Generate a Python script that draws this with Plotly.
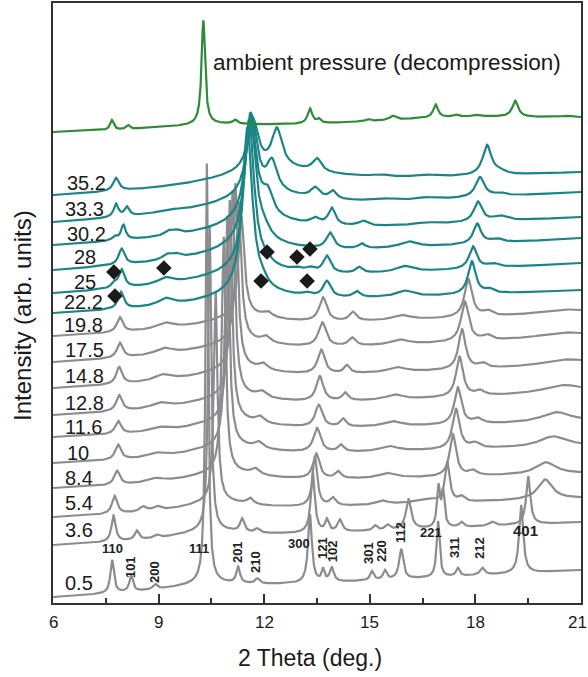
import numpy as np
import plotly.graph_objects as go

# ---------------- data ----------------
# pressures (GPa) for the stacked patterns, bottom -> top
PRESSURES = ["0.5", "3.6", "5.4", "8.4", "10", "11.6", "12.8", "14.8", "17.5", "19.8",
             "22.2", "25", "28", "30.2", "33.3", "35.2"]
# level of each trace at 2theta = 6 and 2theta = 21 (arb. units, offset included)
LEFT_LEVEL = [6, 58, 86, 115, 140, 166, 188, 215, 241, 267, 290, 310, 333, 358, 381, 408]
RIGHT_LEVEL = [33, 81, 106, 131, 160, 185, 216, 243, 270, 293, 313, 340, 365, 386, 411, 431]

# peaks of each pattern: (2theta, height, half width)
PK_0_5 = [(10.4, 6, 1.5), (7.68, 33, 0.06), (8.22, 16, 0.06), (8.9, 5, 0.07), (10.37, 420, 0.045),
          (11.26, 16, 0.06), (11.8, 5, 0.07), (13.3, 68, 0.065), (13.67, 12, 0.05), (13.92, 14, 0.07),
          (15.06, 9, 0.06), (15.43, 9, 0.06), (15.89, 30, 0.07), (16.94, 56, 0.05), (17.5, 8, 0.06),
          (18.2, 7, 0.08), (19.3, 68, 0.07)]
PK_3_6 = [(10.45, 8, 1.2), (7.72, 26, 0.07), (8.38, 9, 0.07), (8.95, 3, 0.08), (10.45, 305, 0.05),
          (11.37, 13, 0.07), (11.8, 4, 0.08), (13.38, 60, 0.07), (13.78, 12, 0.06), (14.15, 12, 0.08),
          (15.15, 5, 0.07), (15.5, 5, 0.08), (16.1, 30, 0.09), (16.95, 40, 0.05), (17.08, 35, 0.05),
          (17.6, 5, 0.07), (18.47, 4, 0.1), (19.5, 48, 0.07)]
PK_5_4 = [(10.65, 10, 1.2), (7.75, 18, 0.09), (8.56, 5, 0.12), (8.95, 4, 0.12), (10.62, 210, 0.06),
          (11.6, 6, 0.1), (13.44, 50, 0.08), (13.95, 8, 0.1), (15.35, 4, 0.2), (16.55, 4, 0.4),
          (17.2, 40, 0.08), (17.6, 5, 0.1), (19.98, 20, 0.25)]
PK_8_4 = [(10.85, 12, 1.3), (7.82, 14, 0.1), (8.9, 4, 0.3), (10.85, 235, 0.065), (11.75, 6, 0.13),
          (13.48, 25, 0.11), (14.1, 7, 0.1), (15.5, 5, 0.3), (17.36, 42, 0.11), (17.93, 5, 0.15),
          (20.0, 12, 0.35)]
PK_10 = [(10.95, 12, 1.3), (7.85, 15, 0.1), (8.95, 4, 0.3), (10.95, 230, 0.07), (11.85, 6, 0.14),
         (13.5, 24, 0.12), (14.18, 7, 0.1), (15.55, 5, 0.3), (17.45, 40, 0.12), (17.99, 5, 0.15),
         (20.2, 10, 0.45)]
PK_11_6 = [(11.0, 12, 1.3), (7.85, 13, 0.1), (9.0, 4, 0.3), (11.02, 220, 0.075), (11.88, 6, 0.14),
           (13.55, 22, 0.12), (14.24, 8, 0.1), (15.65, 5, 0.3), (17.5, 37, 0.12), (18.07, 5, 0.15),
           (20.3, 10, 0.5)]
PK_12_8 = [(11.1, 12, 1.3), (7.88, 16, 0.1), (9.05, 5, 0.3), (11.1, 205, 0.08), (11.92, 6, 0.15),
           (13.58, 25, 0.12), (14.3, 8, 0.1), (15.7, 5, 0.3), (17.55, 40, 0.12), (18.13, 5, 0.15),
           (20.5, 8, 0.7)]
PK_14_8 = [(11.2, 12, 1.3), (7.88, 17, 0.1), (9.12, 6, 0.3), (11.18, 185, 0.08), (11.97, 6, 0.15),
           (13.62, 24, 0.12), (14.35, 8, 0.1), (15.77, 5, 0.3), (17.62, 40, 0.12), (18.2, 5, 0.15),
           (20.6, 6, 0.8)]
PK_17_5 = [(11.3, 12, 1.3), (7.9, 15, 0.1), (9.15, 6, 0.3), (11.27, 140, 0.09), (12.05, 6, 0.15),
           (13.65, 24, 0.13), (14.5, 8, 0.12), (15.85, 5, 0.3), (17.7, 40, 0.13), (18.33, 5, 0.15),
           (20.5, 5, 0.8)]
PK_19_8 = [(11.4, 12, 1.3), (7.9, 15, 0.1), (9.18, 6, 0.3), (11.35, 100, 0.1), (12.1, 5, 0.15),
           (13.67, 24, 0.13), (14.52, 9, 0.12), (15.9, 5, 0.3), (17.8, 38, 0.13), (18.35, 5, 0.15),
           (20.5, 4, 0.8)]
PK_22_2 = [(11.6, 12, 1.5), (7.93, 17, 0.1), (9.2, 7, 0.25), (11.52, 165, 0.17), (11.95, 5, 0.15),
           (13.2, 3, 0.15), (13.78, 16, 0.13), (14.63, 6, 0.12), (16.0, 6, 0.3), (17.9, 33, 0.13),
           (18.4, 4, 0.15)]
PK_25 = [(11.6, 13, 1.5), (7.73, 5, 0.08), (7.95, 18, 0.1), (9.2, 6, 0.25), (11.57, 150, 0.17),
         (12.08, 4, 0.15), (12.93, 3, 0.15), (13.3, 4, 0.15), (13.78, 17, 0.13), (14.7, 6, 0.12),
         (16.0, 6, 0.3), (17.93, 22, 0.13), (18.5, 4, 0.2)]
PK_28 = [(11.7, 14, 1.5), (7.95, 16, 0.1), (9.23, 5, 0.15), (9.5, 4, 0.15), (11.6, 130, 0.18),
         (12.0, 8, 0.2), (13.87, 16, 0.13), (14.77, 5, 0.12), (16.1, 6, 0.3), (18.05, 20, 0.13),
         (18.6, 4, 0.2)]
PK_30_2 = [(11.8, 15, 1.5), (7.75, 4, 0.08), (8.0, 15, 0.08), (9.27, 4, 0.12), (9.5, 4, 0.15),
           (11.62, 105, 0.18), (12.1, 22, 0.18), (13.45, 6, 0.15), (13.92, 17, 0.12), (14.8, 5, 0.15),
           (16.6, 2, 0.3), (18.07, 20, 0.14), (18.7, 5, 0.25)]
PK_33_3 = [(12.0, 16, 1.8), (7.79, 13, 0.08), (8.1, 9, 0.08), (9.3, 2, 0.3), (11.65, 78, 0.18),
           (12.22, 30, 0.18), (13.45, 10, 0.15), (13.95, 8, 0.12), (15.4, 2, 0.3), (16.6, 2, 0.3),
           (18.13, 20, 0.15), (18.7, 3, 0.2)]
PK_35_2 = [(12.2, 18, 2.0), (7.79, 13, 0.1), (11.68, 50, 0.18), (12.36, 38, 0.18), (13.5, 13, 0.15),
           (15.3, 2, 0.3), (16.6, 2, 0.3), (18.33, 30, 0.15), (18.7, 3, 0.2)]
PEAK_TABLES = [PK_0_5, PK_3_6, PK_5_4, PK_8_4, PK_10, PK_11_6, PK_12_8, PK_14_8, PK_17_5, PK_19_8,
               PK_22_2, PK_25, PK_28, PK_30_2, PK_33_3, PK_35_2]
N_GRAY = 10  # first ten patterns are grey, the rest teal

# ambient-pressure (decompression) pattern
AMB_LEFT, AMB_RIGHT = 471, 486
PK_AMB = [(17.5, 6, 3.0), (10.5, 4, 1.5), (7.67, 10, 0.06), (8.13, 4, 0.06), (8.7, 1, 0.15),
          (10.27, 104, 0.06), (11.17, 4, 0.07), (13.3, 15, 0.08), (13.55, 4, 0.06), (14.95, 2, 0.08),
          (15.65, 4, 0.1), (16.87, 13, 0.08), (17.45, 2, 0.08), (18.05, 1.5, 0.1), (19.13, 16, 0.1),
          (20.6, 1.5, 0.15)]

# diamond markers (new-phase reflections)
DIAMOND_X = [7.73, 9.15, 7.76, 12.08, 12.93, 13.30, 11.91, 13.22]
DIAMOND_Y = [331, 335, 307, 351, 346, 354, 322, 322]

# Miller index labels
HKL_TEXT = ["110", "101", "200", "111", "201", "210", "300", "121", "102", "301", "220", "112",
            "221", "311", "212", "401"]
HKL_X = [7.70, 8.19, 8.87, 10.15, 11.23, 11.74, 12.99, 13.64, 13.93, 14.95, 15.32, 15.86,
         16.74, 17.39, 18.10, 19.41]
HKL_Y = [55, 36, 31, 55, 51, 41, 60, 55, 52, 50, 52, 70, 71, 56, 55, 73]
HKL_VERTICAL = [False, True, True, False, True, True, False, True, True, True, True, True,
                False, True, True, False]

# pressure label positions (left edge in 2theta, centre height)
PLABEL_X = [6.28, 6.28, 6.28, 6.28, 6.34, 6.28, 6.28, 6.28, 6.28, 6.25, 6.25, 6.54, 6.54, 6.34, 6.28, 6.34]
PLABEL_Y = [20, 73, 100, 125, 150, 176, 200, 227, 253, 278, 301, 321, 346, 369, 394, 420]

# x tick labels
XTICKS = [6, 9, 12, 15, 18, 21]

# ---------------- build figure ----------------
GRAY = "#8c8c8e"
TEAL = "#1b8585"
GREEN = "#2e8b36"
FONT = "Liberation Sans, Arial"

x = np.linspace(6, 21, 3001)


def pattern(peaks, left, right):
    p = np.zeros_like(x)
    for c, a, w in peaks:
        p += a / (1.0 + ((x - c) / w) ** 2)
    a0 = left - p[0]
    b0 = (right - p[-1] - a0) / 15.0
    return p + a0 + b0 * (x - 6)


fig = go.Figure()
for i, (pk, lv, rv) in enumerate(zip(PEAK_TABLES, LEFT_LEVEL, RIGHT_LEVEL)):
    if i >= N_GRAY:
        continue
    fig.add_trace(go.Scatter(x=x, y=pattern(pk, lv, rv), mode="lines",
                             line=dict(color=GRAY, width=2.2), hoverinfo="skip"))
for i, (pk, lv, rv) in enumerate(zip(PEAK_TABLES, LEFT_LEVEL, RIGHT_LEVEL)):
    if i < N_GRAY:
        continue
    fig.add_trace(go.Scatter(x=x, y=pattern(pk, lv, rv), mode="lines",
                             line=dict(color=TEAL, width=2.2), hoverinfo="skip"))
fig.add_trace(go.Scatter(x=x, y=pattern(PK_AMB, AMB_LEFT, AMB_RIGHT), mode="lines",
                         line=dict(color=GREEN, width=2.2), hoverinfo="skip"))
fig.add_trace(go.Scatter(x=DIAMOND_X, y=DIAMOND_Y, mode="markers",
                         marker=dict(symbol="diamond", size=12, color="#1a1a1a"), hoverinfo="skip"))

ann = []
for t, px_, py_ in zip(PRESSURES, PLABEL_X, PLABEL_Y):
    ann.append(dict(x=px_, y=py_, xref="x", yref="y", text=t, showarrow=False,
                    xanchor="left", yanchor="middle",
                    font=dict(family=FONT, size=20, color="#1a1a1a")))
for t, hx, hy, vert in zip(HKL_TEXT, HKL_X, HKL_Y, HKL_VERTICAL):
    ann.append(dict(x=hx, y=hy, xref="x", yref="y", text="<b>%s</b>" % t, showarrow=False,
                    textangle=-90 if vert else 0, xanchor="center", yanchor="middle",
                    font=dict(family=FONT, size=15 if t == "401" else 13, color="#222222")))
ann.append(dict(x=15.49, y=541, xref="x", yref="y", text="ambient pressure (decompression)",
                showarrow=False, xanchor="center", yanchor="middle",
                font=dict(family=FONT, size=22.5, color="#1a1a1a")))
# x tick labels (last one kept inside the page)
for v in XTICKS:
    last = v == XTICKS[-1]
    ann.append(dict(x=v, y=-(622 - 603) / 600, xref="x", yref="paper", text=str(v),
                    showarrow=False, xanchor="right" if last else "center", yanchor="middle",
                    xshift=8 if last else 0,
                    font=dict(family=FONT, size=17, color="#1a1a1a")))
# axis titles
ann.append(dict(x=-31 / 528, y=(603 - 316) / 600, xref="paper", yref="paper",
                text="Intensity (arb. units)", showarrow=False, textangle=-90,
                xanchor="center", yanchor="middle",
                font=dict(family=FONT, size=24, color="#1a1a1a")))
ann.append(dict(x=(310 - 53) / 528, y=-(658 - 603) / 600, xref="paper", yref="paper",
                text="2 Theta (deg.)", showarrow=False,
                xanchor="center", yanchor="middle",
                font=dict(family=FONT, size=23, color="#1a1a1a")))

fig.update_layout(
    width=588, height=677,
    margin=dict(l=53, r=7, t=3, b=74, autoexpand=False),
    paper_bgcolor="white", plot_bgcolor="white",
    showlegend=False,
    annotations=ann,
    xaxis=dict(range=[6, 21], tickvals=XTICKS, ticks="inside", ticklen=9,
               tickwidth=1.5, tickcolor="#333333", showticklabels=False, automargin=False,
               minor=dict(tickvals=[7.5, 10.5, 13.5, 16.5, 19.5], ticks="inside", ticklen=5,
                          tickwidth=1.5, tickcolor="#333333"),
               showline=True, linecolor="#333333", linewidth=1.5, mirror=True,
               showgrid=False, zeroline=False),
    yaxis=dict(range=[0, 600], showticklabels=False, ticks="", showline=True, automargin=False,
               linecolor="#333333", linewidth=1.5, mirror=True, showgrid=False, zeroline=False),
)

fig.write_html("out.html")
